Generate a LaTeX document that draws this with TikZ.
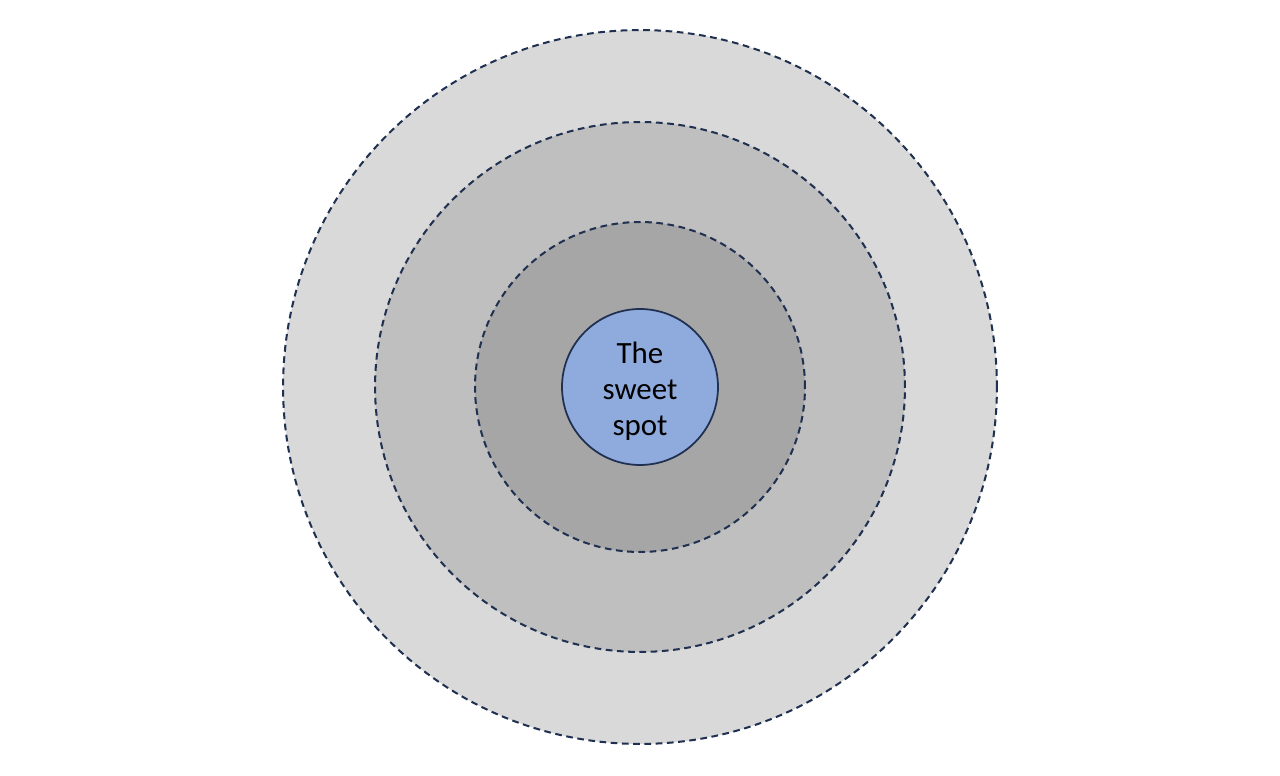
\documentclass[tikz,border=0pt]{standalone}
\usepackage{fontspec}
\setmainfont{Carlito}
\definecolor{ringline}{HTML}{1F3050}
\definecolor{ringA}{HTML}{D9D9D9}
\definecolor{ringB}{HTML}{BFBFBF}
\definecolor{ringC}{HTML}{A6A6A6}
\definecolor{spotblue}{HTML}{8FAADC}
\tikzset{
  ring/.style={circle,draw=ringline,line width=1.15pt,dash pattern=on 3.8pt off 2.6pt,inner sep=0pt},
  spot/.style={circle,draw=ringline,line width=1pt,fill=spotblue,inner sep=0pt,minimum size=3.12cm},
  spottext/.style={align=center,inner sep=0pt,font=\fontsize{17.6}{20.5}\selectfont}
}
\begin{document}
\begin{tikzpicture}[x=0.02cm,y=0.02cm]
  \useasboundingbox[fill=white] (-640,-389) rectangle (640,387);

  % Rings, outside in
  \node[ring,fill=ringA,minimum size=14.28cm] (outer) at (0,0) {};
  \node[ring,fill=ringB,minimum size=10.6cm] (middle) at (0,0) {};
  \node[ring,fill=ringC,minimum size=6.6cm] (inner) at (0,0) {};

  % Centre
  \node[spot] (sweet) at (0,0) {};
  \node[spottext] (label) at (0,-4) {The\\sweet\\spot};
\end{tikzpicture}
\end{document}
